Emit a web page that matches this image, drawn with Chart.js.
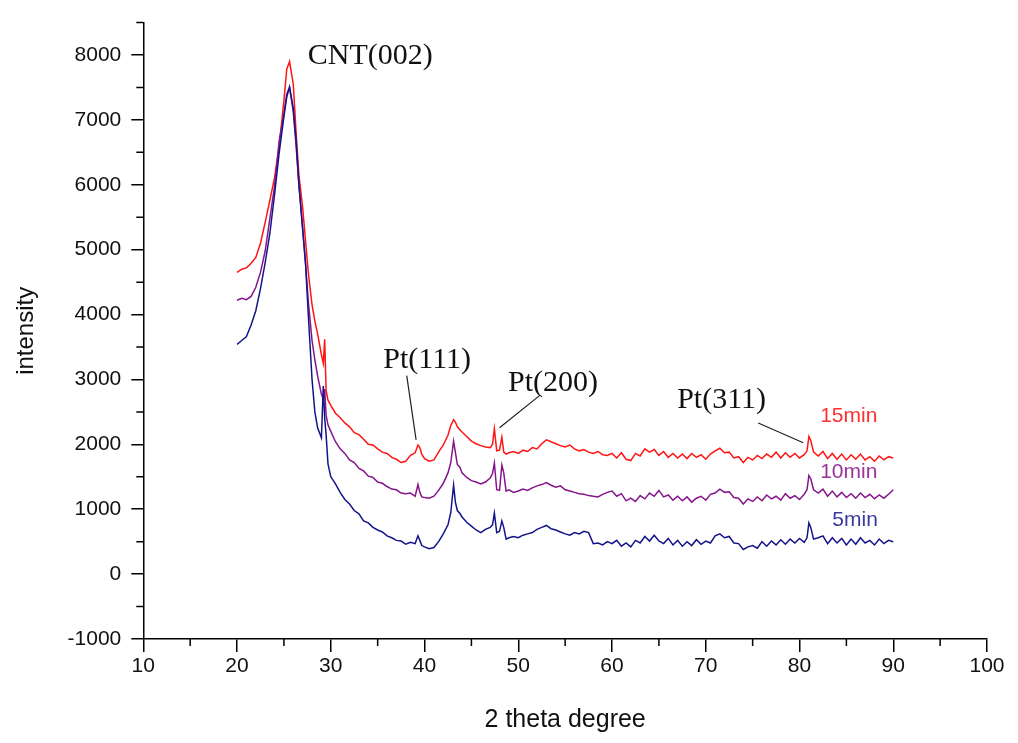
<!DOCTYPE html>
<html>
<head>
<meta charset="utf-8">
<script src="https://cdn.jsdelivr.net/npm/chart.js@4.4.1/dist/chart.umd.min.js"></script>
<style>
    html, body { margin: 0; padding: 0; background: #fff; }
    #xrd { display: block; }
</style>
</head>
<body>
<canvas id="xrd" width="1018" height="743"></canvas>
<script>
// 2 theta positions (degree)
const twoTheta = [
    20, 20.5, 21, 21.5, 22, 22.5, 23, 23.5, 24, 24.5,
    25, 25.3, 25.6, 26, 26.3, 26.6, 27, 27.3, 27.6, 28,
    28.3, 28.6, 29, 29.2, 29.35, 29.5, 29.7, 30, 30.5, 31,
    31.5, 32, 32.5, 33, 33.5, 34, 34.5, 35, 35.5, 36,
    36.5, 37, 37.5, 38, 38.5, 39, 39.3, 39.5, 39.7, 40,
    40.5, 41, 41.5, 42, 42.5, 42.8, 43.1, 43.3, 43.5, 43.8,
    44, 44.5, 45, 45.5, 46, 46.5, 47, 47.25, 47.45, 47.7,
    48, 48.25, 48.45, 48.7, 49, 49.5, 50, 50.5, 51, 51.5,
    52, 52.5, 53, 53.5, 54, 54.5, 55, 55.5, 56, 56.5,
    57, 57.5, 58, 58.5, 59, 59.5, 60, 60.5, 61, 61.5,
    62, 62.5, 63, 63.5, 64, 64.5, 65, 65.5, 66, 66.5,
    67, 67.5, 68, 68.5, 69, 69.5, 70, 70.5, 71, 71.5,
    72, 72.5, 73, 73.5, 74, 74.5, 75, 75.5, 76, 76.5,
    77, 77.5, 78, 78.5, 79, 79.5, 80, 80.5, 80.8, 81,
    81.2, 81.5, 82, 82.5, 83, 83.5, 84, 84.5, 85, 85.5,
    86, 86.5, 87, 87.5, 88, 88.5, 89, 89.5, 90
];

const intensity15min = [
    4650, 4700, 4720, 4790, 4880, 5100, 5420, 5760, 6110, 6600,
    7300, 7780, 7900, 7550, 6800, 6150, 5650, 5150, 4650, 4150,
    3900, 3700, 3380, 3250, 3620, 2830, 2680, 2600, 2480, 2410,
    2330, 2270, 2180, 2150, 2080, 2000, 1990, 1930, 1880, 1860,
    1800, 1770, 1720, 1740, 1830, 1870, 1990, 1950, 1850, 1780,
    1740, 1760, 1880, 1990, 2140, 2290, 2380, 2340, 2270, 2220,
    2190, 2120, 2050, 2010, 1980, 1960, 1950, 2000, 2240, 1900,
    1910, 2110, 1880, 1850, 1870, 1890, 1860, 1910, 1890, 1950,
    1930, 2010, 2070, 2040, 2010, 1980, 1960, 1990, 1930, 1900,
    1920, 1880, 1860, 1890, 1840, 1830, 1860, 1790, 1870, 1770,
    1750, 1860, 1820, 1930, 1880, 1920, 1830, 1890, 1800, 1860,
    1790, 1850, 1780, 1860, 1800, 1840, 1770, 1850, 1900, 1940,
    1870, 1880, 1790, 1810, 1720, 1800, 1760, 1830, 1780, 1850,
    1800, 1880, 1790, 1870, 1800, 1860, 1790, 1840, 1900, 2120,
    2060, 1880, 1820, 1890, 1780, 1860, 1770, 1850, 1760, 1840,
    1770, 1850, 1760, 1810, 1740, 1820, 1760, 1810, 1790
];

const intensity10min = [
    4220, 4250, 4230, 4280, 4420, 4650, 4980, 5480, 5980, 6680,
    7100, 7400, 7500, 7120, 6600, 6000, 5350, 4800, 4200, 3600,
    3300, 3050, 2770, 2700, 2850, 2450, 2300, 2200, 2040, 1930,
    1860, 1760, 1720, 1630, 1590, 1510, 1490, 1420, 1400, 1350,
    1310, 1300, 1250, 1240, 1250, 1200, 1380, 1260, 1190, 1180,
    1170, 1200, 1290, 1400, 1560, 1720, 2050, 1870, 1690, 1640,
    1560, 1490, 1440, 1420, 1390, 1420, 1480, 1550, 1710, 1300,
    1290, 1680, 1560, 1280, 1300, 1260, 1280, 1310, 1290, 1330,
    1360, 1380, 1410, 1370, 1340, 1360, 1300, 1280, 1260, 1240,
    1230, 1210, 1200, 1190, 1230, 1260, 1280, 1200, 1240, 1130,
    1170, 1120, 1210, 1160, 1250, 1200, 1290, 1190, 1220, 1140,
    1200, 1130, 1190, 1110, 1170, 1200, 1140, 1230, 1250, 1310,
    1260, 1270, 1180, 1170, 1080, 1160, 1120, 1190, 1130, 1220,
    1160, 1200, 1140, 1240, 1170, 1210, 1150, 1230, 1300, 1520,
    1470, 1300, 1250, 1310, 1200, 1280, 1190, 1260, 1180, 1240,
    1170, 1250, 1180, 1230, 1160, 1220, 1170, 1230, 1300
];

const intensity5min = [
    3540, 3600, 3660, 3840, 4060, 4400, 4800, 5250, 5850, 6500,
    7050, 7350, 7510, 7180, 6680, 6000, 5300, 4800, 4000, 3000,
    2500, 2250, 2100, 2900, 2400, 2150, 1700, 1500, 1390, 1260,
    1150, 1080, 980, 930, 820, 790, 720, 680, 650, 590,
    560, 520, 510, 460, 490, 470, 590, 520, 440, 420,
    390, 410, 500, 620, 760, 950, 1370, 1100, 980, 930,
    880, 800, 740, 680, 640, 690, 720, 760, 940, 640,
    660, 820, 720, 540, 560, 580, 560, 600, 620, 640,
    690, 720, 750, 700, 680, 650, 620, 600, 640, 620,
    660, 640, 470, 480, 450, 500, 470, 520, 430, 480,
    420, 520, 480, 580, 510, 600, 510, 470, 550, 450,
    520, 430, 500, 440, 530, 460, 510, 480, 590, 620,
    560, 580, 480, 470, 380, 420, 440, 400, 500, 430,
    510, 450, 530, 460, 540, 480, 550, 490, 560, 790,
    720, 540, 560, 590, 470, 560, 480, 550, 450, 540,
    460, 560, 480, 520, 450, 540, 470, 520, 500
];

const seriesNames = ['5min', '10min', '15min'];
const xTickValues = [10, 20, 30, 40, 50, 60, 70, 80, 90, 100];
const yTickValues = [-1000, 0, 1000, 2000, 3000, 4000, 5000, 6000, 7000, 8000];

const toPoints = ys => ys.map((y, i) => ({ x: twoTheta[i], y: y }));

// text + leader lines, anchored in data coordinates
const notes = [
    { text: 'CNT(002)', x: 27.55, y: 7985, font: '30px "Liberation Serif"', color: '#111' },
    { text: 'Pt(111)', x: 35.6, y: 3300, font: '30px "Liberation Serif"', color: '#111' },
    { text: 'Pt(200)', x: 48.9, y: 2950, font: '30px "Liberation Serif"', color: '#111' },
    { text: 'Pt(311)', x: 66.95, y: 2680, font: '30px "Liberation Serif"', color: '#111' },
    { text: '15min', x: 82.2, y: 2436, font: '21px "Liberation Sans"', color: '#ff3030' },
    { text: '10min', x: 82.2, y: 1569, font: '21px "Liberation Sans"', color: '#9a339a' },
    { text: '5min', x: 83.5, y: 824, font: '21px "Liberation Sans"', color: '#3a3a9e' }
];
const leaders = [
    [38.1, 3060, 39.1, 2070],
    [52.3, 2755, 48.0, 2255],
    [75.6, 2330, 80.4, 2025]
];

const notesPlugin = {
    id: 'notes',
    afterDatasetsDraw(chart) {
        const { ctx, scales: { x, y } } = chart;
        ctx.save();
        ctx.strokeStyle = '#222';
        ctx.lineWidth = 1.2;
        leaders.forEach(l => {
            ctx.beginPath();
            ctx.moveTo(x.getPixelForValue(l[0]), y.getPixelForValue(l[1]));
            ctx.lineTo(x.getPixelForValue(l[2]), y.getPixelForValue(l[3]));
            ctx.stroke();
        });
        ctx.textAlign = 'left';
        ctx.textBaseline = 'middle';
        notes.forEach(n => {
            ctx.font = n.font;
            ctx.fillStyle = n.color;
            ctx.fillText(n.text, x.getPixelForValue(n.x), y.getPixelForValue(n.y));
        });
        ctx.restore();
    }
};

// half-length minor ticks between the labelled ones
const minorTicks = {
    id: 'minorTicks',
    afterDraw(chart) {
        const { ctx, scales: { x, y } } = chart;
        ctx.save();
        ctx.strokeStyle = '#000';
        ctx.lineWidth = 1.5;
        ctx.beginPath();
        for (let v = 15; v < 100; v += 10) {
            const px = x.getPixelForValue(v);
            ctx.moveTo(px, x.top);
            ctx.lineTo(px, x.top + 7);
        }
        for (let v = -500; v <= 8500; v += 1000) {
            const py = y.getPixelForValue(v);
            ctx.moveTo(y.right, py);
            ctx.lineTo(y.right - 7, py);
        }
        ctx.stroke();
        ctx.restore();
    }
};

const lineStyle = (color) => ({
    borderColor: color,
    backgroundColor: color,
    borderWidth: 1.5,
    pointRadius: 0,
    tension: 0,
    fill: false
});

const ctx = document.getElementById('xrd').getContext('2d');
new Chart(ctx, {
    type: 'line',
    data: {
        datasets: [
            { label: seriesNames[0], data: toPoints(intensity5min), ...lineStyle('#14148a') },
            { label: seriesNames[1], data: toPoints(intensity10min), ...lineStyle('#85158a') },
            { label: seriesNames[2], data: toPoints(intensity15min), ...lineStyle('#ff1414') }
        ]
    },
    options: {
        responsive: false,
        animation: false,
        layout: { padding: { top: 14, right: 31, left: 0, bottom: 0 } },
        plugins: {
            legend: { display: false },
            tooltip: { enabled: false }
        },
        scales: {
            x: {
                type: 'linear',
                min: 10,
                max: 100,
                afterBuildTicks: s => { s.ticks = xTickValues.map(v => ({ value: v })); },
                afterFit: s => { s.height = 104; },
                ticks: {
                    color: '#111',
                    font: { family: 'Liberation Sans', size: 21 },
                    padding: 2,
                    maxRotation: 0,
                    callback: v => String(v)
                },
                grid: { drawOnChartArea: false, color: '#000', lineWidth: 1.5, tickLength: 13 },
                border: { color: '#000', width: 1.5 },
                title: {
                    display: true,
                    text: '2 theta degree',
                    color: '#111',
                    font: { family: 'Liberation Sans', size: 25 },
                    padding: { top: 0, bottom: 8 }
                }
            },
            y: {
                type: 'linear',
                min: -1000,
                max: 8500,
                afterBuildTicks: s => { s.ticks = yTickValues.map(v => ({ value: v })); },
                afterFit: s => { s.width = 143.3; },
                ticks: {
                    color: '#111',
                    font: { family: 'Liberation Sans', size: 21 },
                    padding: 10,
                    callback: v => String(v)
                },
                grid: { drawOnChartArea: false, color: '#000', lineWidth: 1.5, tickLength: 12 },
                border: { color: '#000', width: 1.5 },
                title: {
                    display: true,
                    text: 'intensity',
                    color: '#111',
                    font: { family: 'Liberation Sans', size: 24 },
                    padding: { top: 12, bottom: 0 }
                }
            }
        }
    },
    plugins: [notesPlugin, minorTicks]
});
</script>
</body>
</html>
